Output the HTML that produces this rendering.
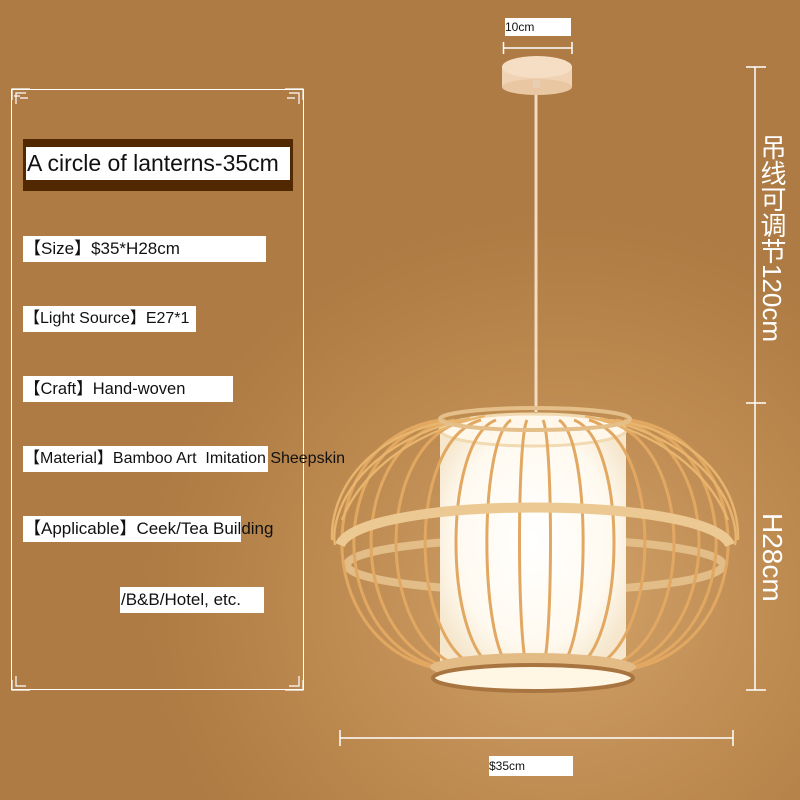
<!DOCTYPE html>
<html><head><meta charset="utf-8"><style>
body{margin:0}
#c{position:relative;width:800px;height:800px;overflow:hidden;background:radial-gradient(ellipse 520px 480px at 560px 600px,#d1a26a 0%,#bd8a50 45%,#ad7b43 80%);font-family:"Liberation Sans","Noto Sans CJK SC",sans-serif}
.b{position:absolute;background:#fff;color:#111;font-size:16px;line-height:26px;white-space:nowrap;height:26px;padding-left:1px}
.w{position:absolute;color:#fff}
</style></head><body><div id="c">
<svg width="800" height="800" style="position:absolute;left:0;top:0">
<defs><radialGradient id="g" cx="0.5" cy="0.45" r="0.6"><stop offset="0" stop-color="#fff"/><stop offset="0.7" stop-color="#fffaf0"/><stop offset="1" stop-color="#f5e6cc"/></radialGradient></defs>
<rect x="11.5" y="89.5" width="292" height="600" fill="none" stroke="#fff" stroke-width="1"/>
<g stroke="#fff" fill="none" stroke-width="1.2">
<path d="M12 100 L12 89 L30 89 M16 104 L16 93 L26 93 M20 98 h8 M14 96 h6"/>
<path d="M303 100 L303 89 L285 89 M299 104 L299 93 L289 93 M295 98 h-8"/>
<path d="M12 680 L12 690 L30 690 M16 676 L16 686 L26 686"/>
<path d="M303 680 L303 690 L285 690 M299 676 L299 686 L289 686"/>
</g>
<g stroke="#fff" stroke-width="1.5">
<line x1="503" y1="48" x2="572" y2="48"/><line x1="503.5" y1="42" x2="503.5" y2="54"/><line x1="572" y1="42" x2="572" y2="54"/>
<line x1="755" y1="67" x2="755" y2="690"/><line x1="746" y1="67" x2="766" y2="67"/><line x1="746" y1="403" x2="766" y2="403"/><line x1="746" y1="690" x2="766" y2="690"/>
<line x1="340" y1="738" x2="733" y2="738"/><line x1="340" y1="730" x2="340" y2="746"/><line x1="733" y1="730" x2="733" y2="746"/>
</g>
<line x1="536" y1="80" x2="536" y2="412" stroke="#f2dcc4" stroke-width="3"/>
<rect x="502" y="67" width="70" height="20" fill="#f0d3b5"/>
<ellipse cx="537" cy="87" rx="35" ry="8" fill="#e9c7a3"/>
<ellipse cx="537" cy="67" rx="35" ry="11" fill="#f6dec4"/>
<rect x="533" y="80" width="7" height="8" fill="#e8cfb4"/>
<ellipse cx="535" cy="565" rx="188" ry="26" fill="none" stroke="#e2bd87" stroke-width="8"/>
<rect x="440" y="428" width="186" height="248" fill="url(#g)"/>
<ellipse cx="533" cy="430" rx="93" ry="16" fill="#fff8ea" stroke="#f1d9b0" stroke-width="3"/>
<g fill="none" stroke="#e2a862" stroke-width="3">
<path d="M630,420 C760,440 760,640 635,668"/><path d="M440,420 C310,440 310,640 435,668"/>
<path d="M624,420 C746,440 746,640 629,668"/><path d="M446,420 C324,440 324,640 441,668"/>
<path d="M616,420 C726,440 726,640 620,668"/><path d="M454,420 C344,440 344,640 450,668"/>
<path d="M603,420 C697,440 697,640 607,668"/><path d="M467,420 C373,440 373,640 463,668"/>
<path d="M589,420 C663,440 663,640 592,668"/><path d="M481,420 C407,440 407,640 478,668"/>
<path d="M574,420 C627,440 627,640 576,668"/><path d="M496,420 C443,440 443,640 494,668"/>
<path d="M559,420 C591,440 591,640 560,668"/><path d="M511,420 C479,440 479,640 510,668"/>
<path d="M543,420 C553,440 553,640 543,668"/><path d="M527,420 C517,440 517,640 527,668"/>
</g>
<g fill="none" stroke="#e8b56e" stroke-width="2.4">
<path d="M600,418 C720,445 740,520 735,545"/><path d="M470,418 C350,445 330,520 335,545"/>
<path d="M585,416 C690,440 720,500 728,520"/><path d="M485,416 C380,440 350,500 342,520"/>
<path d="M610,420 C700,430 740,490 738,540"/><path d="M460,420 C370,430 330,490 332,540"/>
</g>
<ellipse cx="535" cy="419" rx="95" ry="11" fill="none" stroke="#e4bf8a" stroke-width="4"/>
<path d="M340,545 C360,495 710,495 730,545" fill="none" stroke="#ecc992" stroke-width="10"/>
<ellipse cx="533" cy="667" rx="103" ry="14" fill="#e3bb85"/>
<ellipse cx="533" cy="678" rx="100" ry="13" fill="#fff6e4" stroke="#a87440" stroke-width="4"/>
</svg>
<div class="w" style="left:505px;top:18px;width:66px;height:18px;background:#fff;color:#111;font-size:12px;line-height:18px">10cm</div>
<div class="w" style="left:489px;top:756px;width:84px;height:20px;background:#fff;color:#111;font-size:12px;line-height:20px">$35cm</div>
<div class="w" style="left:757px;top:134px;font-size:26px;line-height:30px;writing-mode:vertical-rl">吊线可调节120cm</div>
<div class="w" style="left:757px;top:513px;font-size:28px;line-height:30px;writing-mode:vertical-rl">H28cm</div>
<div style="position:absolute;left:23px;top:139px;width:270px;height:52px;background:#522800"></div>
<div class="b" style="left:26px;top:147px;width:263px;height:33px;font-size:23px;line-height:33px">A circle of lanterns-35cm</div>
<div class="b" style="left:23px;top:236px;width:242px;font-size:17px">【Size】$35*H28cm</div>
<div class="b" style="left:23px;top:306px;width:172px">【Light Source】E27*1</div>
<div class="b" style="left:23px;top:376px;width:209px;font-size:16.5px">【Craft】Hand-woven</div>
<div class="b" style="left:23px;top:446px;width:280px;font-size:16px;background:linear-gradient(90deg,#fff 245px,transparent 245px)">【Material】Bamboo Art&nbsp; Imitation Sheepskin</div>
<div class="b" style="left:23px;top:516px;width:280px;font-size:17px;background:linear-gradient(90deg,#fff 218px,transparent 218px)">【Applicable】Ceek/Tea Building</div>
<div class="b" style="left:120px;top:587px;width:143px;font-size:17px">/B&amp;B/Hotel, etc.</div>
</div></body></html>
